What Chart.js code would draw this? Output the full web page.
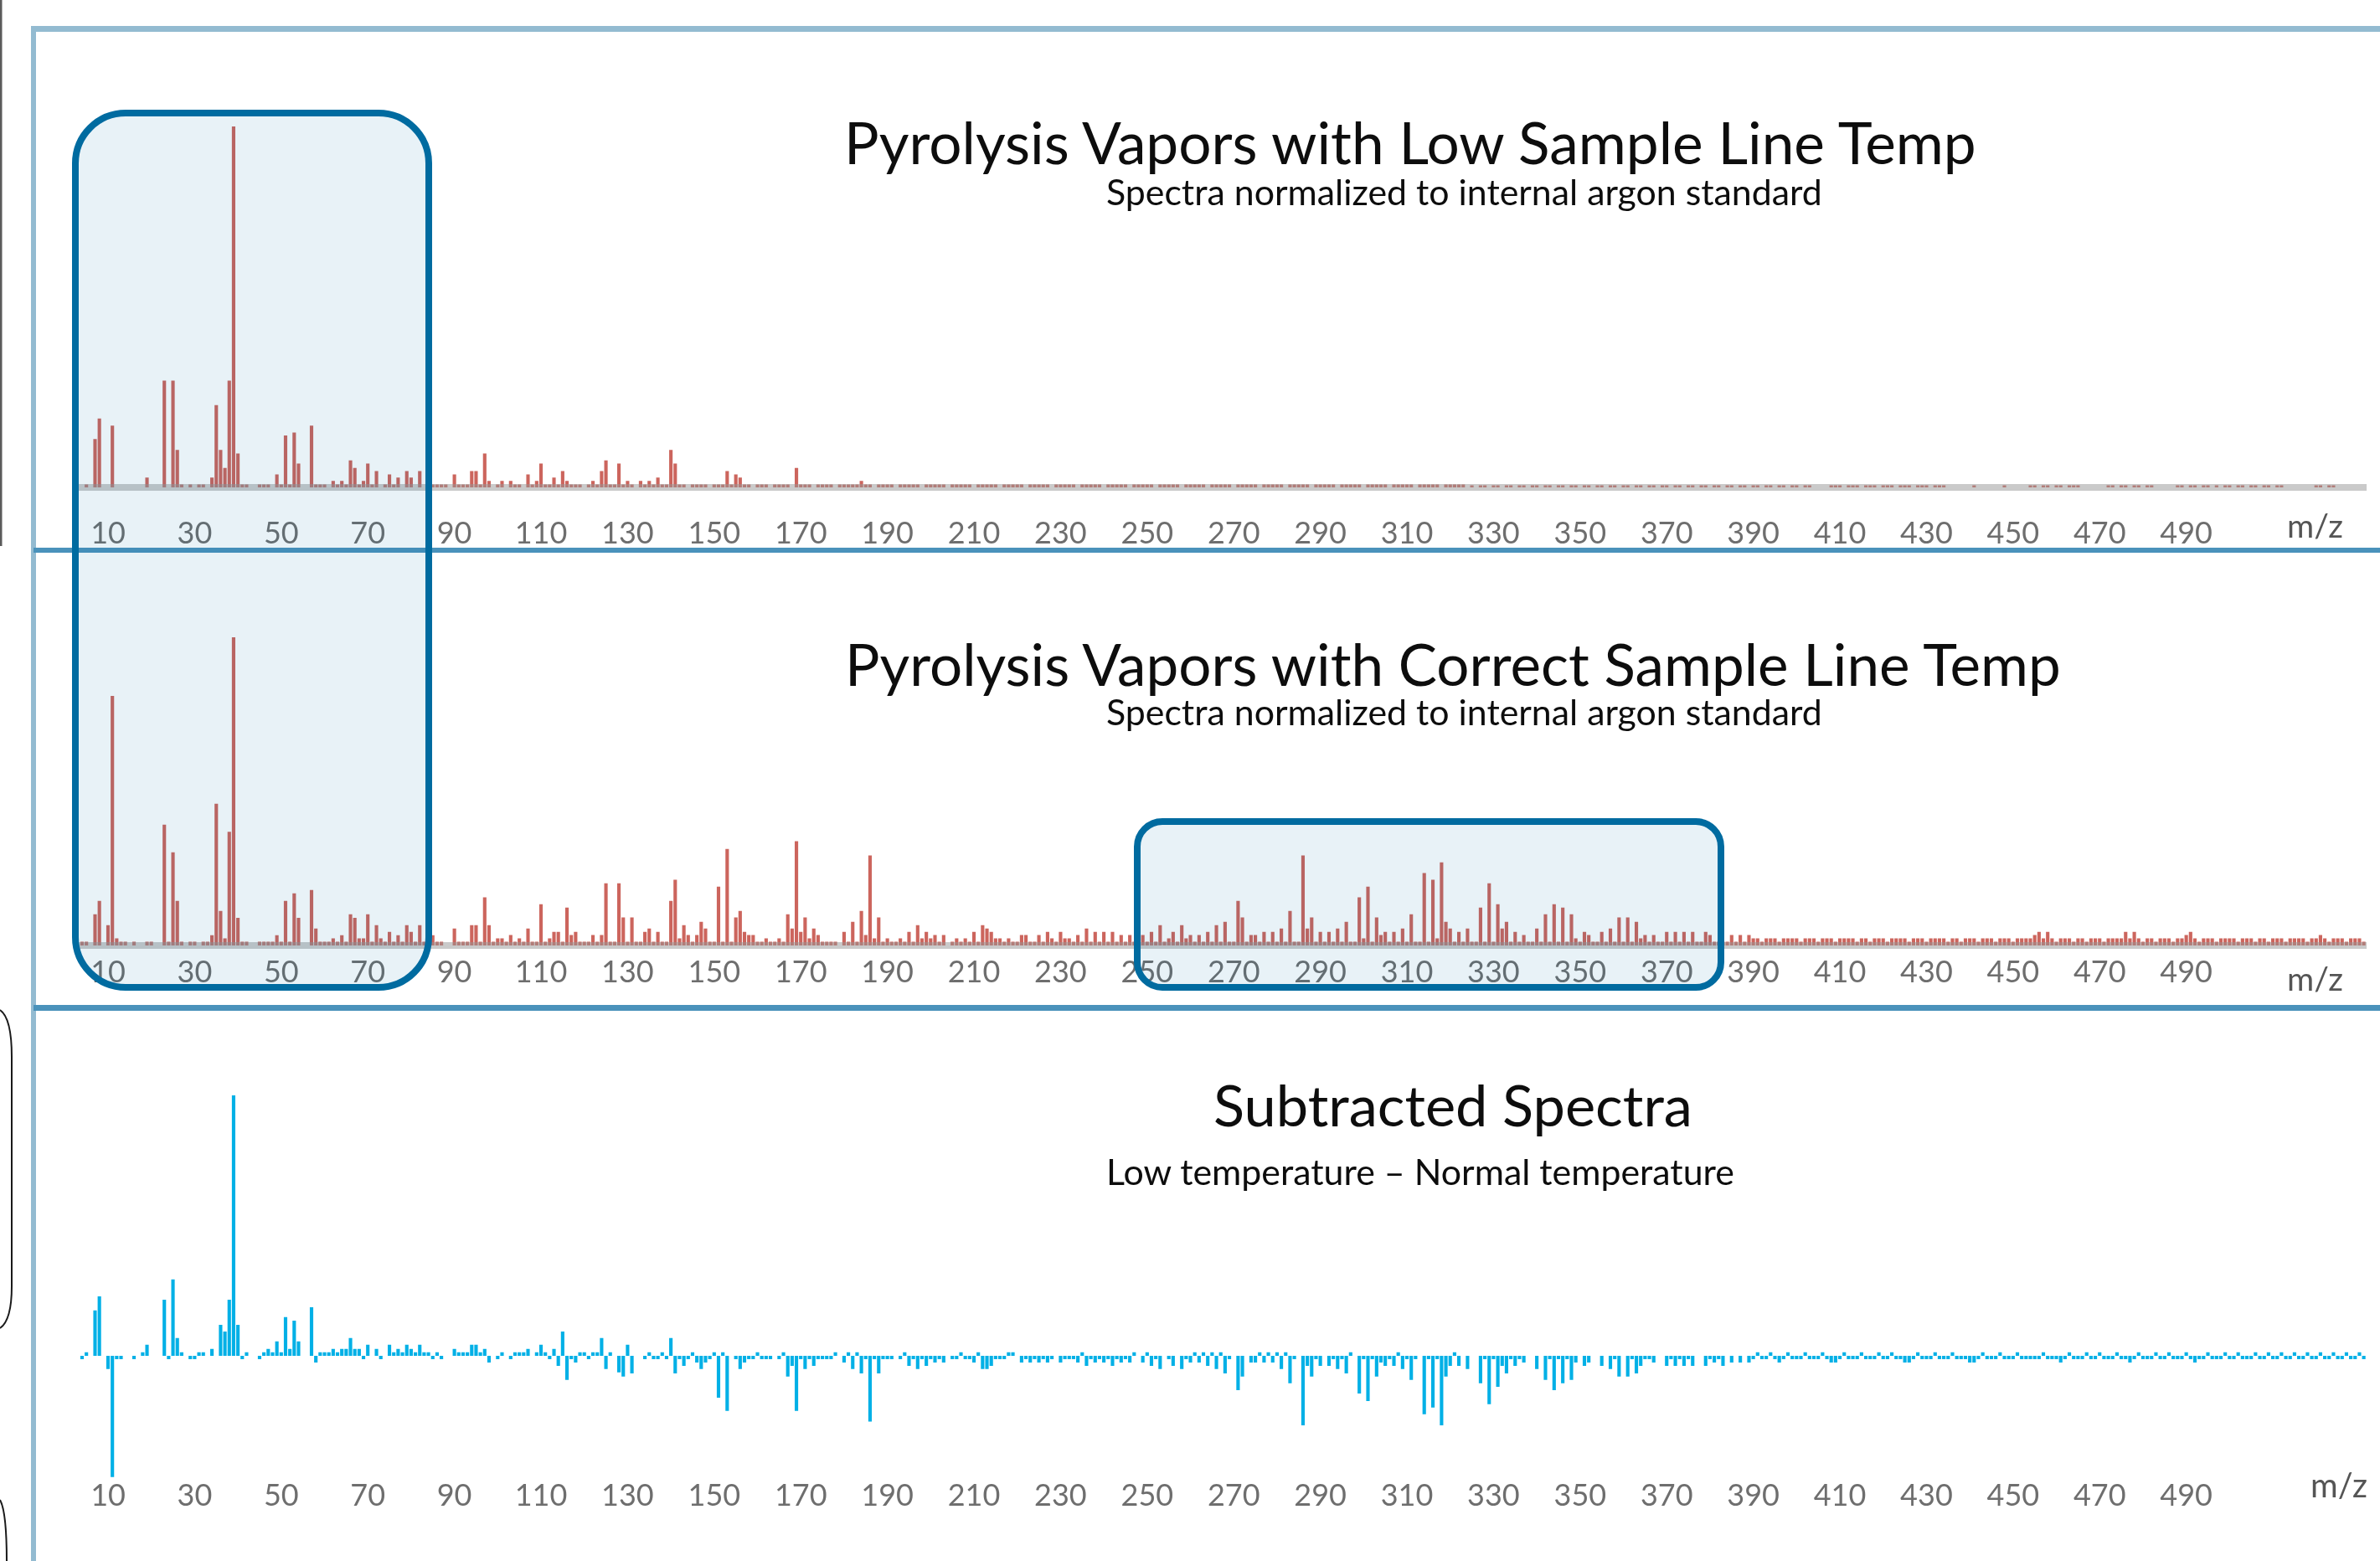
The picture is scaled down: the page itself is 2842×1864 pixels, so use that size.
<!DOCTYPE html>
<html>
<head>
<meta charset="utf-8">
<script src="https://cdn.jsdelivr.net/npm/chart.js@4.4.1/dist/chart.umd.min.js"></script>
<style>
  html, body { margin: 0; padding: 0; background: #ffffff; }
  body { width: 2842px; height: 1864px; position: relative; overflow: hidden; font-family: Lato, "Open Sans", sans-serif; }
  .line { position: absolute; }
  canvas { position: absolute; left: 0; }
  .txt { position: absolute; white-space: nowrap; line-height: 1; font-family: Lato, "Open Sans", sans-serif; font-weight: 400; }
  .probe { display: inline-block; width: 0; height: 0; vertical-align: baseline; }
  #ov { position: absolute; left: 0; top: 0; z-index: 5; pointer-events: none; }
</style>
</head>
<body>

<div class="line" style="left:37px;top:31px;width:2805px;height:7px;background:#93bbd1"></div>
<div class="line" style="left:37px;top:31px;width:6px;height:1833px;background:#93bbd1"></div>
<div class="line" style="left:40px;top:654px;width:2802px;height:6px;background:#4a92bb"></div>
<div class="line" style="left:40px;top:1200px;width:2802px;height:7px;background:#4a92bb"></div>

<canvas id="c1" width="2842" height="600" style="top:100px"></canvas>
<canvas id="c2" width="2842" height="499" style="top:700px"></canvas>
<canvas id="c3" width="2842" height="625" style="top:1220px"></canvas>

<svg id="ov" width="2842" height="1864" xmlns="http://www.w3.org/2000/svg">
  <rect x="0" y="0" width="2.5" height="652" fill="#5a5a5a"/>
  <path d="M0,1206 C9,1212 14,1232 14,1262 L14,1536 C14,1566 9,1580 0,1586" fill="none" stroke="#1a1a1a" stroke-width="2"/>
  <path d="M0,1791 C5,1800 8,1825 8,1864" fill="none" stroke="#1a1a1a" stroke-width="2"/>
  <rect x="90" y="135" width="422" height="1044" rx="60" ry="60" fill="rgba(0,110,170,0.09)" stroke="#006ba0" stroke-width="8"/>
  <rect x="1358" y="981" width="697" height="198" rx="30" ry="30" fill="rgba(0,110,170,0.09)" stroke="#006ba0" stroke-width="8"/>
</svg>

<script>
// ---------------- DATA ----------------
const MZ_START = 4;
const MZ_END = 531;
const MZ = [];
for (let k = MZ_START; k <= MZ_END; k++) MZ.push(k);

const TICK_LABELS = [10, 30, 50, 70, 90, 110, 130, 150, 170, 190, 210, 230, 250, 270, 290,
                     310, 330, 350, 370, 390, 410, 430, 450, 470, 490];

// Relative intensity (argon peak = 100), low sample line temperature
const LOW_TEMP = [
  0, 0.8, 0, 13.4, 19.1, 0,                                   // 4-9
  0, 17.1, 0, 0, 0, 0, 0, 0, 0, 2.7,                          // 10-19
  0, 0, 0, 29.6, 0, 29.6, 10.4, 0.8, 0, 0.8,                  // 20-29
  0, 0.8, 0.8, 0, 2.7, 22.8, 10.4, 5.4, 29.6, 100,            // 30-39
  9.4, 0.8, 0.8, 0, 0, 0.8, 0.8, 0.8, 0, 3.6,                 // 40-49
  0.8, 14.4, 0.8, 15.2, 6.6, 0, 0, 17.1, 0.8, 0.8,            // 50-59
  0.8, 0, 1.8, 0.8, 1.8, 0.8, 7.5, 5.4, 0.8, 1.8,             // 60-69
  6.6, 0.8, 4.5, 0, 0.8, 3.6, 0.8, 2.7, 0, 4.5,               // 70-79
  2.7, 0, 4.5, 0, 0.8, 0.8, 0.8, 0.8, 0.8, 0,                 // 80-89
  3.6, 0.8, 0.8, 0.8, 4.5, 4.5, 0.8, 9.4, 1.8, 0,             // 90-99
  0.8, 1.8, 0, 1.8, 0.8, 0.8, 0, 3.6, 0.8, 1.8,               // 100-109
  6.6, 0.8, 0.8, 2.7, 0.8, 4.5, 1.8, 0.8, 0.8, 0.8,           // 110-119
  0, 0.8, 1.8, 0.8, 4.5, 7.5, 0.8, 0.8, 6.6, 0.8,             // 120-129
  1.8, 0.8, 0, 1.8, 0.8, 1.8, 0.8, 2.7, 0.8, 0.8,             // 130-139
  10.4, 6.6, 0.8, 0.8, 0, 0.8, 0.8, 0.8, 0.8, 0,              // 140-149
  0.8, 0.8, 0.8, 4.5, 0.8, 3.6, 2.7, 0.8, 0.8, 0,             // 150-159
  0.8, 0.8, 0.8, 0, 0.8, 0.8, 0.8, 0.8, 0, 5.4,               // 160-169
  0.8, 0.8, 0.8, 0, 0.8, 0.8, 0.8, 0.8, 0, 0.8,               // 170-179
  0.8, 0.8, 0.8, 0.8, 1.8, 0.8, 0.8, 0, 0.8, 0.8,             // 180-189
  0.8, 0.8, 0, 0.8, 0.8, 0.8, 0.8, 0.8, 0, 0.8,               // 190-199
  0.8, 0.8, 0.8, 0.8, 0, 0.8, 0.8, 0.8, 0.8, 0.8,             // 200-209
  0, 0.8, 0.8, 0.8, 0.8, 0.8, 0, 0.8, 0.8, 0.8,               // 210-219
  0.8, 0.8, 0, 0.8, 0.8, 0.8, 0.8, 0.8, 0, 0.8,               // 220-229
  0.8, 0.8, 0.8, 0.8, 0, 0.8, 0.8, 0.8, 0.8, 0.8,             // 230-239
  0, 0.8, 0.8, 0.8, 0.8, 0.8, 0, 0.8, 0.8, 0.8,               // 240-249
  0.8, 0.8, 0, 0.8, 0.8, 0.8, 0.8, 0.8, 0, 0.8,               // 250-259
  0.8, 0.8, 0.8, 0.8, 0, 0.8, 0.8, 0.8, 0.8, 0.8,             // 260-269
  0, 0.8, 0.8, 0.8, 0.8, 0.8, 0, 0.8, 0.8, 0.8,               // 270-279
  0.8, 0.8, 0, 0.8, 0.8, 0.8, 0.8, 0.8, 0, 0.8,               // 280-289
  0.8, 0.8, 0.8, 0.8, 0, 0.8, 0.8, 0.8, 0.8, 0.8,             // 290-299
  0, 0.8, 0.8, 0.8, 0.8, 0.8, 0, 0.8, 0.8, 0.8,               // 300-309
  0.8, 0.8, 0, 0.8, 0.8, 0.8, 0.8, 0.8, 0, 0.8,               // 310-319
  0.8, 0.8, 0.8, 0.8, 0, 0.6, 0, 0.6, 0.6, 0,                 // 320-329
  0.6, 0.6, 0, 0.6, 0.6, 0, 0.6, 0.6, 0, 0.6,                 // 330-339
  0.6, 0, 0.6, 0.6, 0, 0.6, 0.6, 0, 0.6, 0.6,                 // 340-349
  0, 0.6, 0.6, 0, 0.6, 0.6, 0, 0.6, 0.6, 0,                   // 350-359
  0.6, 0.6, 0, 0.6, 0.6, 0, 0.6, 0.6, 0, 0.6,                 // 360-369
  0.6, 0, 0.6, 0.6, 0, 0.6, 0.6, 0, 0.6, 0.6,                 // 370-379
  0, 0.6, 0.6, 0, 0.6, 0.6, 0, 0.6, 0.6, 0,                   // 380-389
  0.6, 0.6, 0, 0.6, 0.6, 0, 0.6, 0.6, 0, 0.6,                 // 390-399
  0.6, 0, 0.6, 0.6, 0, 0, 0, 0, 0.6, 0.6,                     // 400-409
  0.6, 0, 0.6, 0.6, 0.6, 0, 0.6, 0.6, 0.6, 0,                 // 410-419
  0.6, 0.6, 0.6, 0, 0.6, 0.6, 0.6, 0, 0.6, 0.6,               // 420-429
  0.6, 0, 0.6, 0.6, 0.6, 0, 0, 0, 0, 0,                       // 430-439
  0, 0.6, 0, 0, 0, 0, 0, 0, 0.6, 0,                           // 440-449
  0, 0, 0, 0, 0.6, 0.6, 0, 0.6, 0.6, 0,                       // 450-459
  0.6, 0.6, 0, 0.6, 0.6, 0.6, 0, 0, 0, 0,                     // 460-469
  0, 0, 0.6, 0.6, 0, 0.6, 0.6, 0, 0.6, 0.6,                   // 470-479
  0, 0.6, 0.6, 0, 0, 0, 0, 0, 0.6, 0.6,                       // 480-489
  0, 0.6, 0.6, 0, 0.6, 0.6, 0, 0.6, 0, 0.6,                   // 490-499
  0.6, 0, 0.6, 0.6, 0, 0.6, 0.6, 0, 0.6, 0.6,                 // 500-509
  0, 0.6, 0.6, 0, 0, 0, 0, 0, 0, 0,                           // 510-519
  0.6, 0.6, 0, 0.6, 0.6, 0, 0, 0, 0, 0,                       // 520-529
  0, 0                                                        // 530-531
];

// Relative intensity (argon peak = 100), correct sample line temperature
const CORRECT_TEMP = [
  1.2, 1.2, 0, 10.1, 14.5, 0,                                 // 4-9
  6.6, 81, 2.3, 1.2, 1.2, 0, 1.2, 0, 0, 1.2,                  // 10-19
  1.2, 0, 0, 39.2, 1.2, 30.2, 14.5, 1.2, 0, 1.2,              // 20-29
  1.2, 0, 1.2, 1.2, 3.3, 46, 11.2, 2.3, 36.9, 100,            // 30-39
  9.0, 1.2, 1.2, 0, 0, 1.2, 1.2, 1.2, 1.2, 3.3,               // 40-49
  1.2, 14.5, 1.2, 16.9, 9.0, 0, 0, 18.0, 5.5, 1.2,            // 50-59
  1.2, 1.2, 2.3, 1.2, 3.3, 1.2, 10.1, 9.0, 2.3, 2.3,          // 60-69
  10.1, 1.2, 6.6, 2.3, 1.2, 4.4, 1.2, 3.3, 1.2, 6.6,          // 70-79
  4.4, 1.2, 6.6, 1.2, 1.2, 3.3, 1.2, 1.2, 0, 0,               // 80-89
  5.5, 1.2, 1.2, 1.2, 6.6, 6.6, 1.2, 15.6, 6.6, 1.2,          // 90-99
  2.3, 2.3, 1.2, 3.4, 1.2, 2.3, 1.2, 5.5, 1.2, 1.2,           // 100-109
  13.4, 1.2, 2.3, 4.4, 4.4, 1.2, 12.3, 3.4, 4.4, 1.2,         // 110-119
  1.2, 1.2, 3.4, 1.2, 3.4, 20.2, 1.2, 1.2, 20.2, 9.1,         // 120-129
  1.2, 9.1, 1.2, 1.2, 4.4, 5.5, 1.2, 4.4, 1.2, 1.2,           // 130-139
  14.5, 21.3, 2.3, 6.6, 3.4, 1.2, 3.4, 7.7, 5.5, 1.2,         // 140-149
  1.2, 19.1, 1.2, 31.3, 1.2, 9.1, 11.2, 4.4, 3.4, 3.4,        // 150-159
  1.2, 1.2, 2.3, 1.2, 1.2, 2.3, 1.2, 10.1, 5.5, 33.8,         // 160-169
  4.4, 9.1, 2.3, 5.5, 3.4, 1.2, 1.2, 1.2, 1.2, 0,             // 170-179
  4.4, 1.2, 7.7, 1.2, 11.2, 3.4, 29.2, 2.3, 9.1, 1.2,         // 180-189
  2.3, 1.2, 1.2, 2.3, 1.2, 4.4, 1.2, 6.6, 2.3, 4.4,           // 190-199
  2.3, 3.4, 1.2, 3.4, 0, 1.2, 2.3, 1.2, 2.3, 1.2,             // 200-209
  4.4, 1.2, 6.6, 5.5, 4.4, 2.3, 2.3, 1.2, 2.3, 1.2,           // 210-219
  1.2, 3.4, 3.4, 1.2, 1.2, 3.4, 1.2, 4.4, 2.3, 1.2,           // 220-229
  4.4, 2.3, 2.3, 1.2, 3.4, 1.2, 5.5, 1.2, 4.4, 1.2,           // 230-239
  4.4, 1.2, 4.4, 1.2, 3.4, 1.2, 3.4, 1.2, 1.2, 3.4,           // 240-249
  1.2, 4.4, 1.2, 6.6, 1.2, 2.3, 4.4, 1.2, 6.6, 2.3,           // 250-259
  3.4, 1.2, 3.4, 1.2, 4.4, 1.2, 6.6, 1.2, 7.7, 1.2,           // 260-269
  1.2, 14.5, 9.1, 1.2, 3.4, 3.4, 1.2, 4.4, 1.2, 4.4,          // 270-279
  1.2, 5.5, 1.2, 11.2, 1.2, 1.2, 29.2, 5.5, 9.1, 1.2,         // 280-289
  4.4, 1.2, 4.4, 1.2, 5.5, 1.2, 7.7, 1.2, 1.2, 15.6,          // 290-299
  2.3, 19.1, 1.2, 9.1, 3.4, 4.4, 1.2, 4.4, 1.2, 5.5,          // 300-309
  1.2, 10.1, 1.2, 1.2, 23.5, 1.2, 21.3, 2.3, 27.0, 7.7,       // 310-319
  5.5, 1.2, 4.4, 1.2, 5.5, 1.2, 1.2, 12.3, 1.2, 20.2,         // 320-329
  1.2, 13.4, 5.5, 7.7, 1.2, 4.4, 1.2, 3.4, 1.2, 1.2,          // 330-339
  5.5, 1.2, 10.1, 1.2, 13.4, 1.2, 12.3, 1.2, 10.1, 2.3,       // 340-349
  1.2, 4.4, 3.4, 1.2, 1.2, 4.4, 1.2, 5.5, 1.2, 9.1,           // 350-359
  1.2, 9.1, 1.2, 7.7, 2.3, 3.4, 1.2, 3.4, 1.2, 1.2,           // 360-369
  4.4, 1.2, 4.4, 1.2, 4.4, 1.2, 4.4, 1.2, 1.2, 4.4,           // 370-379
  3.4, 1.2, 1.2, 1.2, 1.2, 3.4, 1.2, 3.4, 1.2, 3.4,           // 380-389
  2.3, 2.3, 1.2, 2.3, 2.3, 2.3, 1.2, 2.3, 2.3, 2.3,           // 390-399
  2.3, 1.2, 2.3, 2.3, 2.3, 1.2, 2.3, 2.3, 2.3, 1.2,           // 400-409
  2.3, 2.3, 2.3, 2.3, 1.2, 2.3, 2.3, 1.2, 2.3, 2.3,           // 410-419
  2.3, 1.2, 2.3, 2.3, 2.3, 2.3, 1.2, 2.3, 2.3, 2.3,           // 420-429
  1.2, 2.3, 2.3, 2.3, 2.3, 1.2, 2.3, 2.3, 1.2, 2.3,           // 430-439
  2.3, 2.3, 1.2, 2.3, 2.3, 2.3, 1.2, 2.3, 2.3, 2.3,           // 440-449
  1.2, 2.3, 2.3, 2.3, 2.3, 3.4, 4.4, 2.3, 4.4, 2.3,           // 450-459
  1.2, 2.3, 2.3, 2.3, 1.2, 2.3, 2.3, 1.2, 2.3, 2.3,           // 460-469
  2.3, 1.2, 2.3, 2.3, 2.3, 2.3, 4.4, 2.3, 4.4, 2.3,           // 470-479
  1.2, 2.3, 2.3, 1.2, 2.3, 2.3, 2.3, 1.2, 2.3, 2.3,           // 480-489
  3.4, 4.4, 2.3, 1.2, 2.3, 2.3, 2.3, 1.2, 2.3, 2.3,           // 490-499
  2.3, 2.3, 1.2, 2.3, 2.3, 2.3, 1.2, 2.3, 2.3, 1.2,           // 500-509
  2.3, 2.3, 2.3, 1.2, 2.3, 2.3, 2.3, 2.3, 1.2, 2.3,           // 510-519
  2.3, 3.4, 2.3, 1.2, 2.3, 2.3, 2.3, 1.2, 2.3, 2.3,           // 520-529
  2.3, 1.2                                                    // 530-531
];

// Subtracted spectrum (low - normal), scaled so the largest positive peak = 100
const SUBTRACTED = [
  -1.3, 1.3, 0, 17.4, 22.8, 0,                                // 4-9
  -5.1, -46.6, -1.3, -1.3, 0, 0, -1.3, 0, 1.3, 4.2,           // 10-19
  0, 0, 0, 21.5, -1.3, 29.3, 6.8, 1.3, 0, -1.3,               // 20-29
  -1.3, 1.3, 1.3, 0, 2.6, 0, 11.9, 9.3, 21.5, 100,            // 30-39
  11.9, -1.3, 1.3, 0, 0, -1.3, 1.3, 2.6, 1.3, 5.5,            // 40-49
  1.3, 14.8, 2.6, 13.5, 5.5, 0, 0, 18.6, -2.6, 1.3,           // 50-59
  1.3, 1.3, 2.6, 1.3, 2.6, 2.6, 6.8, 2.6, 2.6, -1.3,          // 60-69
  4.2, 0, 2.6, -1.3, 0, 4.2, 1.3, 2.6, 1.3, 4.2,              // 70-79
  2.6, 1.3, 4.2, 1.3, 1.3, -1.3, 1.3, -1.3, 0, 0,             // 80-89
  2.6, 1.3, 1.3, 1.3, 4.2, 4.2, 1.3, 2.6, -2.6, 0,            // 90-99
  -1.3, 1.3, 0, -1.3, 1.3, 1.3, 1.3, 2.6, 0, 1.3,             // 100-109
  4.2, 1.3, -1.3, 2.6, -3.9, 9.3, -9.3, -1.3, -2.6, 1.3,      // 110-119
  1.3, -1.3, 1.3, 1.3, 6.8, -5.1, 1.3, 0, -6.4, -8.0,         // 120-129
  4.2, -6.8, 0, 0, -1.3, 1.3, -1.3, -1.3, 1.3, -1.3,          // 130-139
  6.8, -6.8, -1.3, -3.9, -1.3, 1.3, -2.6, -5.1, -2.6, -1.3,   // 140-149
  1.3, -16.1, 1.3, -21.2, 0, -1.3, -5.1, -2.6, -1.3, -1.3,    // 150-159
  1.3, -1.3, -1.3, -1.3, 0, -1.3, 1.3, -8.0, -3.9, -21.2,     // 160-169
  -1.3, -5.1, -1.3, -3.9, -1.3, -1.3, -1.3, -1.3, 1.3, 0,     // 170-179
  -2.6, 1.3, -5.1, 1.3, -6.8, -1.3, -25.3, -1.3, -6.8, -1.3,  // 180-189
  -1.3, -1.3, 0, -1.3, 1.3, -3.9, -1.3, -5.1, -1.3, -3.9,     // 190-199
  -1.3, -2.6, -1.3, -2.6, 0, -1.3, -1.3, 1.3, -1.3, -1.3,     // 200-209
  -2.6, 1.3, -5.1, -5.1, -3.9, -1.3, -1.3, -1.3, 1.3, 1.3,    // 210-219
  0, -2.6, -1.3, -2.6, -1.3, -2.6, -1.3, -2.6, -1.3, 0,       // 220-229
  -2.6, -1.3, -1.3, -1.3, -2.6, 1.3, -3.9, -1.3, -2.6, -1.3,  // 230-239
  -2.6, -1.3, -3.9, -1.3, -2.6, -1.3, -2.6, 1.3, 0, -2.6,     // 240-249
  1.3, -3.9, -1.3, -5.1, 0, -1.3, -3.9, 0, -5.1, -1.3,        // 250-259
  -2.6, 1.3, -2.6, 1.3, -3.9, 1.3, -5.1, 1.3, -6.8, -1.3,     // 260-269
  0, -13.2, -8.0, 0, -2.6, -2.6, 1.3, -2.6, 1.3, -2.6,        // 270-279
  1.3, -5.1, 1.3, -10.6, -1.3, 0, -26.7, -3.9, -8.0, -1.3,    // 280-289
  -3.9, 0, -3.9, -1.3, -5.1, -1.3, -6.8, 1.3, 0, -14.5,       // 290-299
  -1.3, -17.4, -1.3, -8.0, -2.6, -3.9, -1.3, -3.9, 1.3, -5.1, // 300-309
  -1.3, -9.3, -1.3, 0, -22.5, -1.3, -19.9, -1.3, -26.7, -8.0, // 310-319
  -3.9, 1.3, -3.9, 0, -5.1, 0, 0, -10.6, -1.3, -18.6,         // 320-329
  -1.3, -11.9, -3.9, -6.8, -1.3, -3.9, -1.3, -2.6, 0, 0,      // 330-339
  -5.1, 0, -9.3, -1.3, -13.2, -1.3, -10.6, -1.3, -9.3, -2.6,  // 340-349
  0, -3.9, -2.6, 0, 0, -3.9, 0, -5.1, -1.3, -8.0,             // 350-359
  0, -8.0, -1.3, -6.8, -3.9, -1.3, -1.3, -2.6, 0, 0,          // 360-369
  -3.9, -1.3, -3.9, -1.3, -3.9, -1.3, -3.9, 0, 0, -3.9,       // 370-379
  -1.3, -2.6, -1.3, -3.9, 0, -2.6, 0, -2.6, 0, -2.6,          // 380-389
  -1.3, 1.3, -1.3, -1.3, 1.3, -1.3, -2.6, -1.3, 1.3, -1.3,    // 390-399
  -1.3, -1.3, 1.3, -1.3, -1.3, -1.3, 1.3, -1.3, -2.6, -2.6,   // 400-409
  -1.3, 1.3, -1.3, -1.3, -1.3, 1.3, -1.3, -1.3, -1.3, 1.3,    // 410-419
  -1.3, -1.3, 1.3, -1.3, -1.3, -2.6, -2.6, -1.3, 1.3, -1.3,   // 420-429
  -1.3, -1.3, 1.3, -1.3, -1.3, -1.3, 1.3, -1.3, -1.3, -1.3,   // 430-439
  -2.6, -2.6, -1.3, 1.3, -1.3, -1.3, -1.3, 1.3, -1.3, -1.3,   // 440-449
  -1.3, 1.3, -1.3, -1.3, -1.3, -1.3, -1.3, 1.3, -1.3, -1.3,   // 450-459
  -1.3, -2.6, -1.3, 1.3, -1.3, -1.3, -1.3, 1.3, -1.3, -1.3,   // 460-469
  1.3, -1.3, -1.3, -1.3, 1.3, -1.3, -1.3, -2.6, -1.3, 1.3,    // 470-479
  -1.3, -1.3, -1.3, 1.3, -1.3, -1.3, 1.3, -1.3, -1.3, -1.3,   // 480-489
  1.3, -1.3, -2.6, -1.3, -1.3, 1.3, -1.3, -1.3, -1.3, 1.3,    // 490-499
  -1.3, -1.3, 1.3, -1.3, -1.3, -1.3, 1.3, -1.3, -1.3, 1.3,    // 500-509
  -1.3, -1.3, 1.3, -1.3, -1.3, 1.3, -1.3, -1.3, 1.3, -1.3,    // 510-519
  -1.3, 1.3, -1.3, -1.3, 1.3, -1.3, -1.3, 1.3, -1.3, -1.3,    // 520-529
  1.3, -1.3                                                   // 530-531
];

const TITLES = [
  { text: 'Pyrolysis Vapors with Low Sample Line Temp', x: 1008, baseline: 196, w: 1352, color: '#0d0d0d' },
  { text: 'Spectra normalized to internal argon standard', x: 1321, baseline: 245, w: 855, color: '#0d0d0d' },
  { text: 'Pyrolysis Vapors with Correct Sample Line Temp', x: 1009, baseline: 819, w: 1452, color: '#0d0d0d' },
  { text: 'Spectra normalized to internal argon standard', x: 1321, baseline: 866, w: 855, color: '#0d0d0d' },
  { text: 'Subtracted Spectra', x: 1449, baseline: 1345, w: 572, color: '#0d0d0d' },
  { text: 'Low temperature \u2013 Normal temperature', x: 1321, baseline: 1415, w: 750, color: '#0d0d0d' },
  { text: 'm/z', x: 2731, baseline: 642, w: 67, color: '#555555' },
  { text: 'm/z', x: 2731, baseline: 1183, w: 67, color: '#555555' },
  { text: 'm/z', x: 2759, baseline: 1788, w: 68, color: '#555555' }
];

// ---------------- RENDER ----------------
[LOW_TEMP, CORRECT_TEMP, SUBTRACTED].forEach((a, i) => {
  if (a.length !== MZ.length) console.warn('series ' + i + ' length ' + a.length + ' != ' + MZ.length);
});

function placeText(t) {
  const d = document.createElement('div');
  d.className = 'txt';
  d.style.left = t.x + 'px';
  d.style.top = '0px';
  d.style.fontSize = '100px';
  d.style.color = t.color;
  const s = document.createElement('span');
  s.textContent = t.text;
  const p = document.createElement('span');
  p.className = 'probe';
  d.appendChild(s);
  d.appendChild(p);
  document.body.appendChild(d);
  const w = s.getBoundingClientRect().width;
  d.style.fontSize = (100 * t.w / w) + 'px';
  const base = p.offsetTop;
  d.style.top = (t.baseline - base) + 'px';
}
TITLES.forEach(placeText);

function makeChart(id, values, color, o) {
  return new Chart(document.getElementById(id), {
    type: 'bar',
    data: {
      labels: MZ,
      datasets: [{
        data: values,
        backgroundColor: color,
        borderWidth: 0,
        barPercentage: 0.8,
        categoryPercentage: 1.0
      }]
    },
    options: {
      responsive: false,
      maintainAspectRatio: false,
      animation: false,
      devicePixelRatio: 1,
      layout: { padding: { left: 95.4, right: 16.8, top: o.pt, bottom: o.pb } },
      plugins: { legend: { display: false }, tooltip: { enabled: false }, title: { display: false } },
      scales: {
        x: {
          type: 'category',
          offset: true,
          grid: { display: true, drawOnChartArea: false, drawTicks: false, color: 'rgba(0,0,0,0)' },
          border: o.border
            ? { display: true, color: 'rgba(150,150,150,0.5)', width: 8, z: 1 }
            : { display: false },
          ticks: {
            autoSkip: false,
            maxRotation: 0,
            minRotation: 0,
            padding: o.tp,
            color: '#6e6e6e',
            font: { family: 'Lato', size: 36, lineHeight: 1 },
            callback: function (value, index) {
              const m = MZ[index];
              return TICK_LABELS.indexOf(m) >= 0 ? String(m) : null;
            }
          },
          afterFit: function (scale) { scale.height = o.xh; }
        },
        y: { display: false, min: o.min, max: o.max }
      }
    }
  });
}

makeChart('c1', LOW_TEMP, '#cc655d', { pt: 51, pb: 28, xh: 90, tp: 37, min: 0, max: 100, border: true });
makeChart('c2', CORRECT_TEMP, '#cc655d', { pt: 61, pb: 10, xh: 60, tp: 14, min: 0, max: 100, border: true });
makeChart('c3', SUBTRACTED, '#00b0e6', { pt: 88, pb: 20, xh: 60, tp: 3, min: -47, max: 100, border: false });
</script>
</body>
</html>
